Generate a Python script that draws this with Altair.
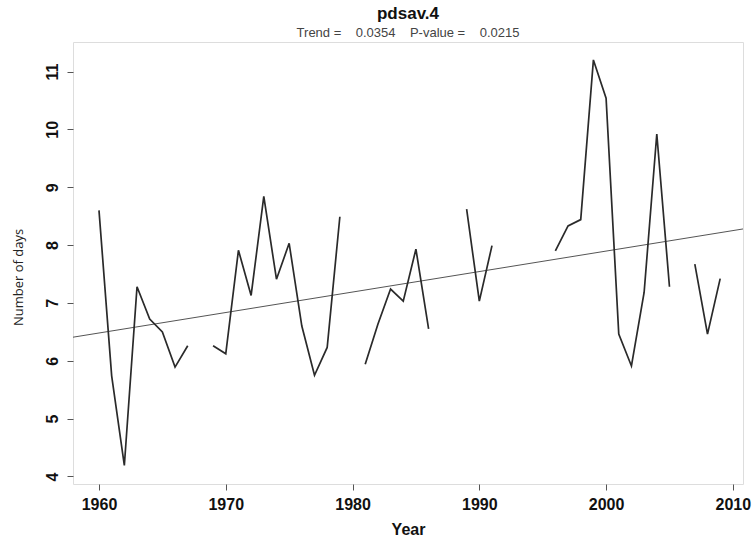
import altair as alt
import pandas as pd

# ---- data ----
years = [1960, 1961, 1962, 1963, 1964, 1965, 1966, 1967,
         1969, 1970, 1971, 1972, 1973, 1974, 1975, 1976, 1977, 1978, 1979,
         1981, 1982, 1983, 1984, 1985, 1986,
         1989, 1990, 1991,
         1996, 1997, 1998, 1999, 2000, 2001, 2002, 2003, 2004, 2005,
         2007, 2008, 2009]
values = [8.60, 5.74, 4.19, 7.28, 6.72, 6.50, 5.89, 6.26,
          6.26, 6.12, 7.91, 7.13, 8.84, 7.41, 8.03, 6.60, 5.75, 6.23, 8.49,
          5.94, 6.63, 7.24, 7.03, 7.93, 6.55,
          8.62, 7.03, 7.99,
          7.90, 8.33, 8.44, 11.20, 10.54, 6.46, 5.91, 7.18, 9.92, 7.28,
          7.67, 6.46, 7.42]

trend_slope = 0.0354
trend_at_1960 = 6.48
title_text = "pdsav.4"
NB = "\u00a0"
subtitle_text = "Trend =" + NB * 4 + "0.0354" + NB * 4 + "P-value =" + NB * 4 + "0.0215"
x_ticks = [1960, 1970, 1980, 1990, 2000, 2010]
y_ticks = [4, 5, 6, 7, 8, 9, 10, 11]
x_domain = [1957.95, 2010.8]
y_domain = [3.87, 11.51]

# segments of consecutive years (gaps break the line)
seg = []
s = 0
for i, yr in enumerate(years):
    if i > 0 and yr - years[i - 1] > 1:
        s += 1
    seg.append(s)
df = pd.DataFrame({"Year": years, "Days": values, "seg": seg})

trend_df = pd.DataFrame({
    "Year": x_domain,
    "Days": [trend_at_1960 + trend_slope * (x - 1960) for x in x_domain],
})

FONT = "Liberation Sans"

xscale = alt.Scale(domain=x_domain, nice=False, zero=False)
yscale = alt.Scale(domain=y_domain, nice=False, zero=False)

xaxis = alt.Axis(values=x_ticks, title="Year", format="d", grid=False, domain=False,
                 tickColor="#555", tickSize=6, labelPadding=6,
                 labelFont=FONT, labelFontSize=16, labelFontWeight="bold", labelColor="#111",
                 titleFont=FONT, titleFontSize=16, titleFontWeight="bold", titleColor="#111",
                 titlePadding=9)
yaxis = alt.Axis(values=y_ticks, title="Number of days", format="d", grid=False, domain=False,
                 tickColor="#555", tickSize=6, labelPadding=7,
                 labelAngle=270, labelAlign="center", labelBaseline="bottom",
                 labelFont=FONT, labelFontSize=16, labelFontWeight="bold", labelColor="#111",
                 titleFont="Open Sans", titleFontSize=13, titleFontWeight="normal", titleColor="#222",
                 titleAngle=270, titleAlign="center", titleBaseline="middle",
                 titleX=-55, titleY=235)

line = alt.Chart(df).mark_line(color="#2a2a2a", strokeWidth=1.7).encode(
    x=alt.X("Year:Q", scale=xscale, axis=xaxis),
    y=alt.Y("Days:Q", scale=yscale, axis=yaxis),
    detail="seg:N",
)

trend = alt.Chart(trend_df).mark_line(color="#555", strokeWidth=1, clip=True).encode(
    x=alt.X("Year:Q", scale=xscale),
    y=alt.Y("Days:Q", scale=yscale),
)

chart = (trend + line).properties(
    width=670, height=442,
    title=alt.TitleParams(text=title_text, subtitle=subtitle_text, anchor="middle",
                          font=FONT, fontSize=17, fontWeight="bold", color="#111",
                          subtitleFont=FONT, subtitleFontSize=13, subtitleColor="#444",
                          subtitlePadding=4, offset=1),
    autosize=alt.AutoSizeParams(type="none"),
    padding={"left": 73, "top": 42, "right": 10, "bottom": 59},
).configure_view(stroke="#777", strokeWidth=1).configure(background="white")

chart.save("out.html", embed_options={"renderer": "svg", "actions": False})
